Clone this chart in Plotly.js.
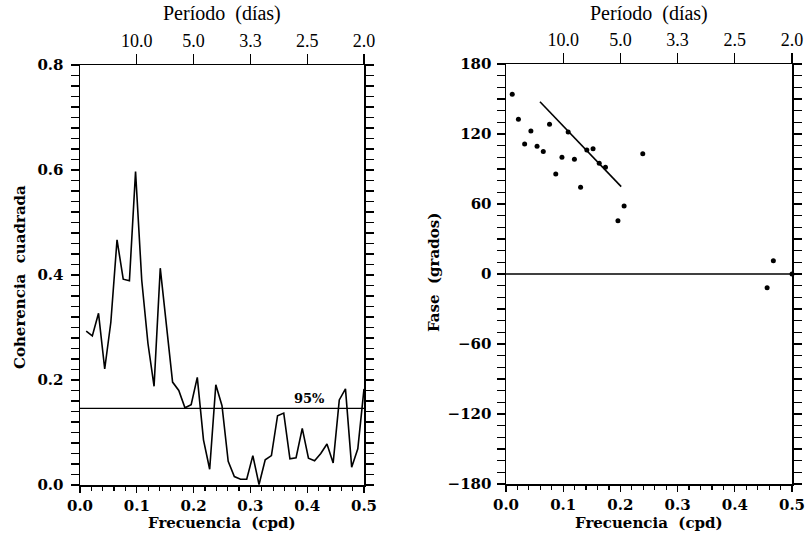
<!DOCTYPE html>
<html>
<head>
<meta charset="utf-8">
<script src="https://cdn.plot.ly/plotly-3.0.1.min.js"></script>
<style>
html,body{margin:0;padding:0;background:#fff;}
#chart{width:806px;height:533px;position:relative;}
</style>
</head>
<body>
<div id="chart"></div>
<script>
// Frequencies (cpd) of the spectral estimates
const freq = [0.0109,0.0217,0.0326,0.0435,0.0543,0.0652,0.0761,0.0870,0.0978,0.1087,
  0.1196,0.1304,0.1413,0.1522,0.1630,0.1739,0.1848,0.1957,0.2065,0.2174,
  0.2283,0.2391,0.2500,0.2609,0.2717,0.2826,0.2935,0.3043,0.3152,0.3261,
  0.3370,0.3478,0.3587,0.3696,0.3804,0.3913,0.4022,0.4130,0.4239,0.4348,
  0.4457,0.4565,0.4674,0.4783,0.4891,0.5000];
// Squared coherence
const coherence = [0.293,0.284,0.327,0.221,0.310,0.467,0.392,0.389,0.597,0.390,
  0.270,0.188,0.413,0.300,0.196,0.180,0.147,0.153,0.205,0.086,
  0.030,0.191,0.151,0.045,0.016,0.011,0.011,0.056,0.001,0.048,
  0.056,0.132,0.137,0.050,0.052,0.108,0.051,0.046,0.060,0.078,
  0.042,0.162,0.183,0.034,0.069,0.183];
// 95% significance level
const sig95 = 0.146;
const sigLabel = "95%";
// Phase points (frequency, degrees)
const phaseFreq = [0.0109,0.0217,0.0326,0.0435,0.0543,0.0652,0.0761,0.0870,0.0978,0.1087,
  0.1196,0.1304,0.1413,0.1522,0.1630,0.1739,0.1957,0.2065,0.2391,0.4565,0.4674,0.5000];
const phaseDeg = [154.0,132.6,111.4,122.6,109.4,105.1,128.3,85.7,100.0,121.7,
  98.3,74.3,106.3,107.4,94.9,91.4,45.7,58.3,103.1,-11.7,11.4,0.0];
// Fitted phase line
const fitFreq = [0.0594,0.2014];
const fitDeg = [147.7,74.9];
// Top axis: period in days
const periodTickPos = [0.1,0.2,0.3,0.4,0.5];
const periodTickText = ["10.0","5.0","3.3","2.5","2.0"];

const W = 806, H = 533;
const boldFont = {family:"DejaVu Serif", size:15, color:"#000", weight:"bold"};
const titleFont = {family:"DejaVu Serif", size:15, color:"#000", weight:"bold"};
const topFont = {family:"Liberation Serif", size:18, color:"#000"};
const clear = "rgba(0,0,0,0)";

const traces = [
  {x:freq, y:coherence, xaxis:"x", yaxis:"y", mode:"lines", line:{color:"#000", width:1.6}, hoverinfo:"skip"},
  {x:[0,0.5], y:[sig95,sig95], xaxis:"x", yaxis:"y", mode:"lines", line:{color:"#000", width:1.4}, hoverinfo:"skip"},
  {x:[0,0.5], y:[0,0], xaxis:"x2", yaxis:"y2", mode:"lines", line:{color:"#000", width:1.4}, hoverinfo:"skip"},
  {x:fitFreq, y:fitDeg, xaxis:"x2", yaxis:"y2", mode:"lines", line:{color:"#000", width:1.6}, hoverinfo:"skip"},
  {x:phaseFreq, y:phaseDeg, xaxis:"x2", yaxis:"y2", mode:"markers", marker:{color:"#000", size:5}, cliponaxis:false, hoverinfo:"skip"},
  // invisible traces so the top (period) axes are drawn
  {x:periodTickPos, y:periodTickPos.map(()=>null), xaxis:"x3", yaxis:"y", mode:"markers", marker:{opacity:0}, hoverinfo:"skip"},
  {x:periodTickPos, y:periodTickPos.map(()=>null), xaxis:"x4", yaxis:"y2", mode:"markers", marker:{opacity:0}, hoverinfo:"skip"}
];

const common = {
  showline:true, linecolor:"#000", linewidth:1.5, gridcolor:clear, zerolinecolor:clear,
  ticks:"outside", tickcolor:"#000"
};
const dL = [80/W, 364/W], dR = [506/W, 792/W];
const yL = [(H-485)/H, (H-65)/H], yR = [(H-484)/H, (H-64)/H];

const xBottom = (dom, anchor) => Object.assign({}, common, {
  domain:dom, anchor:anchor, range:[0,0.5], dtick:0.1,
  tickformat:".1f", ticklen:6, mirror:true, tickfont:boldFont,
  minor:{ticks:"outside", dtick:0.02, ticklen:4, gridcolor:clear}
});
const xTop = (over, anchor, dom) => ({
  overlaying:over, anchor:anchor, domain:dom, side:"top", range:[0,0.5], tickmode:"array",
  tickvals:periodTickPos, ticktext:periodTickText, ticks:"outside", ticklen:10,
  tickcolor:"#000", showline:false, gridcolor:clear, zerolinecolor:clear, tickfont:topFont
});

const layout = {
  width:W, height:H, margin:{l:0,r:0,t:0,b:0}, showlegend:false,
  xaxis: xBottom(dL, "y"),
  xaxis2: xBottom(dR, "y2"),
  xaxis3: xTop("x", "y", dL),
  xaxis4: xTop("x2", "y2", dR),
  yaxis: Object.assign({}, common, {
    domain:yL, anchor:"x", range:[0,0.8], dtick:0.2,
    tickformat:".1f", ticklen:8, mirror:"allticks", tickfont:boldFont, ticklabelstandoff:4,
    minor:{ticks:"outside", dtick:0.02, ticklen:5, gridcolor:clear}
  }),
  yaxis2: Object.assign({}, common, {
    domain:yR, anchor:"x2", range:[-180,180], dtick:60,
    ticklen:8, mirror:"allticks", tickfont:boldFont, ticklabelstandoff:2,
    minor:{ticks:"outside", dtick:10, ticklen:5, gridcolor:clear}
  }),
  annotations: [
    {xref:"paper", yref:"paper", x:222/W, y:1-14/H, text:"Período\u00a0\u00a0(días)", showarrow:false, xanchor:"center", yanchor:"middle", font:{family:"Liberation Serif", size:20, color:"#000"}},
    {xref:"paper", yref:"paper", x:649/W, y:1-14/H, text:"Período\u00a0\u00a0(días)", showarrow:false, xanchor:"center", yanchor:"middle", font:{family:"Liberation Serif", size:20, color:"#000"}},
    {xref:"paper", yref:"paper", x:222/W, y:1-523/H, text:"Frecuencia\u00a0\u00a0(cpd)", showarrow:false, xanchor:"center", yanchor:"middle", font:titleFont},
    {xref:"paper", yref:"paper", x:649/W, y:1-523/H, text:"Frecuencia\u00a0\u00a0(cpd)", showarrow:false, xanchor:"center", yanchor:"middle", font:titleFont},
    {xref:"paper", yref:"paper", x:20/W, y:1-277/H, text:"Coherencia\u00a0\u00a0cuadrada", textangle:-90, showarrow:false, xanchor:"center", yanchor:"middle", font:titleFont},
    {xref:"paper", yref:"paper", x:434/W, y:1-273/H, text:"Fase\u00a0\u00a0(grados)", textangle:-90, showarrow:false, xanchor:"center", yanchor:"middle", font:titleFont},
    {xref:"x", yref:"y", x:0.404, y:sig95, yshift:10, text:sigLabel, showarrow:false, xanchor:"center", yanchor:"middle", font:{family:"DejaVu Serif", size:13, color:"#000", weight:"bold"}}
  ]
};

// Sum the translate() offsets of an element and its ancestors up to its svg
function offsetOf(el) {
  let x = 0, y = 0, n = el;
  while (n && n.tagName && n.tagName.toLowerCase() !== "svg") {
    const t = n.getAttribute && n.getAttribute("transform");
    if (t) {
      const m = /translate\(\s*([-\d.eE]+)(?:[ ,]+([-\d.eE]+))?\s*\)/.exec(t);
      if (m) { x += parseFloat(m[1]); y += parseFloat(m[2] || 0); }
    }
    n = n.parentNode;
  }
  return [x, y];
}

Plotly.newPlot("chart", traces, layout, {staticPlot:true, displayModeBar:false}).then(function(gd){
  // Re-layer the library's own tick marks on top so nothing hides them
  const svgs = gd.querySelectorAll("svg.main-svg");
  const topSvg = svgs[svgs.length - 1];
  const NS = "http://www.w3.org/2000/svg";
  const g = document.createElementNS(NS, "g");
  topSvg.appendChild(g);
  gd.querySelectorAll("path.ticks").forEach(function(p){
    const d = p.getAttribute("d");
    if (!d) return;
    const [ox, oy] = offsetOf(p);
    const c = document.createElementNS(NS, "path");
    c.setAttribute("d", d);
    c.setAttribute("transform", "translate(" + ox + "," + oy + ")");
    c.setAttribute("fill", "none");
    c.setAttribute("stroke", "#000");
    c.setAttribute("stroke-width", "1.2");
    c.setAttribute("shape-rendering", "crispEdges");
    g.appendChild(c);
  });
});
</script>
</body>
</html>
